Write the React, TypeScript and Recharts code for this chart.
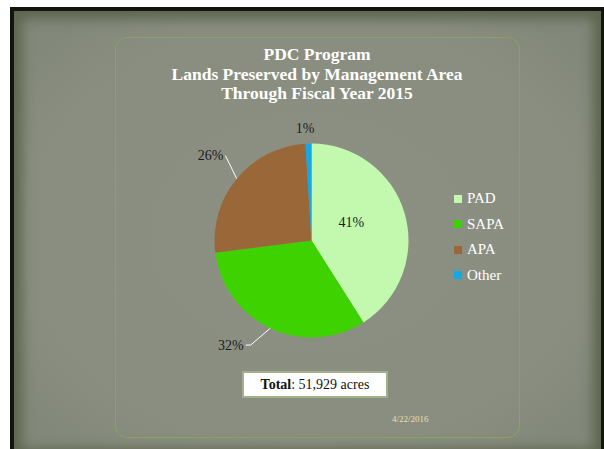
import React from 'react';
import { PieChart, Pie, Cell, Legend } from 'recharts';

const areas = ['PAD', 'SAPA', 'APA', 'Other'];
const shares = [41, 32, 26, 1];
const colors = ['#c2f9ae', '#3ed200', '#9a6838', '#13a9e6'];
const titleLines = ['PDC Program', 'Lands Preserved by Management Area', 'Through Fiscal Year 2015'];

const data = areas.map((name, i) => ({ name, value: shares[i] }));

const FONT = '"Liberation Serif", "DejaVu Serif", serif';
const RAD = Math.PI / 180;

const renderLabel = (props: any) => {
  const { cx, cy, midAngle, outerRadius, percent, index } = props;
  const text = `${Math.round(percent * 100)}%`;
  const common = { fontFamily: FONT, fontSize: 14, fill: '#1c1c1c' };

  if (index === 0) {
    const r = outerRadius * 0.45;
    const x = cx + r * Math.cos(-(midAngle + 8) * RAD);
    const y = cy + r * Math.sin(-(midAngle + 8) * RAD);
    return (
      <text x={x} y={y} textAnchor="middle" dominantBaseline="central" {...common}>
        {text}
      </text>
    );
  }
  if (index === 3) {
    const r = outerRadius + 11;
    const x = cx + r * Math.cos(-midAngle * RAD) - 3;
    const y = cy + r * Math.sin(-midAngle * RAD);
    return (
      <text x={x} y={y} textAnchor="middle" {...common}>
        {text}
      </text>
    );
  }
  // outside labels with a white leader line
  const sx = cx + outerRadius * Math.cos(-midAngle * RAD);
  const sy = cy + outerRadius * Math.sin(-midAngle * RAD);
  const a = midAngle - 5;
  const ex = cx + (outerRadius + 24) * Math.cos(-a * RAD);
  const ey = cy + (outerRadius + 24) * Math.sin(-a * RAD);
  const hx = index === 1 ? ex - 5 : ex;
  return (
    <g>
      <polyline points={`${sx},${sy} ${ex},${ey} ${hx},${ey}`} fill="none" stroke="#ffffff" strokeWidth={1} />
      <text x={hx - 2} y={ey} textAnchor="end" dominantBaseline="central" {...common}>
        {text}
      </text>
    </g>
  );
};

const LegendList = (props: any) => {
  const items = [...(props.payload || [])].sort(
    (a: any, b: any) => areas.indexOf(a.value) - areas.indexOf(b.value)
  );
  return (
    <ul style={{ listStyle: 'none', margin: 0, padding: 0 }}>
      {items.map((p: any) => (
        <li
          key={p.value}
          style={{ display: 'flex', alignItems: 'center', height: 25.5, fontFamily: FONT, fontSize: 15, color: '#ffffff' }}
        >
          <span style={{ display: 'inline-block', width: 8, height: 8, background: p.color, marginRight: 5 }} />
          {p.value}
        </li>
      ))}
    </ul>
  );
};

export default function App() {
  return (
    <div style={{ position: 'absolute', left: 0, top: 0, width: 604, height: 449, background: '#ffffff', overflow: 'hidden' }}>
      <div style={{ position: 'absolute', left: 10, top: 7, width: 594, height: 442, background: '#121410' }} />
      <div
        style={{
          position: 'absolute',
          left: 14,
          top: 11,
          width: 587,
          height: 446,
          background: 'radial-gradient(ellipse at 50% 50%, #8d9184 0%, #898d7f 70%, #82887a 88%)',
          boxShadow: 'inset 0 0 12px 8px #5e664e',
        }}
      />
      <div
        style={{
          position: 'absolute',
          left: 115,
          top: 37,
          width: 403,
          height: 399,
          border: '1.5px solid #86a45c',
          borderRadius: 12,
        }}
      />
      <div
        style={{
          position: 'absolute',
          left: 117,
          top: 45,
          width: 400,
          textAlign: 'center',
          fontFamily: FONT,
          fontWeight: 'bold',
          fontSize: 17.5,
          lineHeight: '19.5px',
          color: '#ffffff',
        }}
      >
        {titleLines.map((t) => (
          <div key={t}>{t}</div>
        ))}
      </div>
      <div style={{ position: 'absolute', left: 0, top: 0 }}>
        <PieChart width={604} height={449} margin={{ top: 0, right: 0, bottom: 0, left: 0 }}>
          <Pie
            data={data}
            dataKey="value"
            nameKey="name"
            cx={311.5}
            cy={240.5}
            outerRadius={97}
            startAngle={90}
            endAngle={-270}
            stroke="none"
            label={renderLabel}
            labelLine={false}
            isAnimationActive={false}
          >
            {data.map((d, i) => (
              <Cell key={d.name} fill={colors[i]} />
            ))}
          </Pie>
          <Legend
            layout="vertical"
            align="right"
            verticalAlign="top"
            content={<LegendList />}
            wrapperStyle={{ position: 'absolute', left: 454, top: 186, width: 90 }}
          />
        </PieChart>
      </div>
      <div
        style={{
          position: 'absolute',
          left: 242,
          top: 371,
          width: 142,
          height: 23,
          background: '#ffffff',
          border: '2px solid #9fb189',
          fontFamily: FONT,
          fontSize: 14,
          lineHeight: '23px',
          textAlign: 'center',
          color: '#111111',
        }}
      >
        <b>Total</b>: 51,929 acres
      </div>
      <div
        style={{
          position: 'absolute',
          left: 392,
          top: 414,
          fontFamily: FONT,
          fontSize: 9,
          color: '#e8e0b4',
        }}
      >
        4/22/2016
      </div>
    </div>
  );
}
